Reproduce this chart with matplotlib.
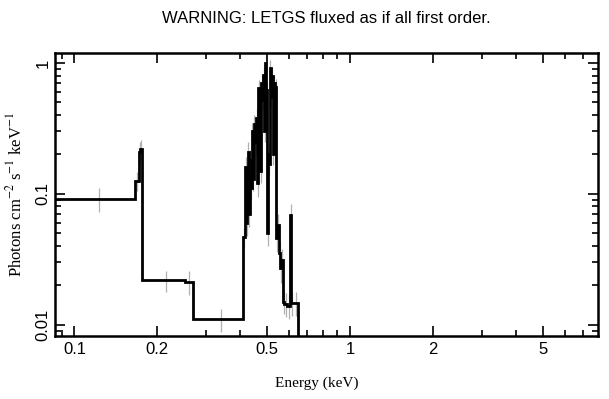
import numpy as np
import matplotlib
matplotlib.use("Agg")
from matplotlib import pyplot as plt
from matplotlib.ticker import FixedLocator, NullFormatter, FixedFormatter

# bin edges (keV) and fluxed values (photons cm^-2 s^-1 keV^-1)
edges = [0.080, 0.166, 0.171, 0.1735, 0.176, 0.252, 0.270, 0.409, 0.417,
         0.420, 0.423, 0.426, 0.429, 0.432, 0.436, 0.440, 0.444, 0.448,
         0.452, 0.456, 0.460, 0.464, 0.468, 0.472, 0.476, 0.480, 0.484,
         0.488, 0.492, 0.496, 0.500, 0.504, 0.508, 0.512, 0.516, 0.520,
         0.524, 0.528, 0.532, 0.536, 0.540, 0.546, 0.552, 0.558, 0.565,
         0.571, 0.578, 0.590, 0.606, 0.612, 0.623, 0.648, 0.700]
flux = [0.092, 0.126, 0.21, 0.22, 0.0219, 0.0213, 0.0110, 0.047,
        0.16, 0.06, 0.15, 0.21, 0.07, 0.18, 0.11, 0.30, 0.13, 0.34,
        0.25, 0.38, 0.12, 0.64, 0.45, 0.15, 0.70, 0.52, 0.81, 0.30,
        1.00, 0.62, 0.05, 0.20, 0.17, 0.92, 0.55, 0.80, 0.20, 0.70,
        0.45, 0.65, 0.046, 0.058, 0.035, 0.027, 0.031, 0.015, 0.0145,
        0.014, 0.069, 0.0147, 0.0147, 1e-5]
flux_err = [0.019, 0.02, 0.04, 0.04, 0.004, 0.0045, 0.0022, 0.008,
            0.03, 0.012, 0.03, 0.04, 0.014, 0.035, 0.02, 0.05, 0.025, 0.06,
            0.05, 0.07, 0.025, 0.1, 0.08, 0.03, 0.11, 0.09, 0.12, 0.05,
            0.13, 0.1, 0.01, 0.035, 0.03, 0.13, 0.09, 0.12, 0.035, 0.11,
            0.08, 0.1, 0.01, 0.012, 0.008, 0.006, 0.007, 0.003, 0.003,
            0.003, 0.014, 0.003, 0.003, 0.0]

title = "WARNING: LETGS fluxed as if all first order."
xticks = [0.1, 0.2, 0.5, 1, 2, 5]
xtick_labels = ["0.1", "0.2", "0.5", "1", "2", "5"]
yticks = [0.01, 0.1, 1]
ytick_labels = ["0.01", "0.1", "1"]

plt.rcParams["font.family"] = ["Liberation Sans", "DejaVu Sans"]
plt.rcParams["mathtext.fontset"] = "stix"

fig = plt.figure(figsize=(6.09, 3.99), dpi=100)
ax = fig.add_axes([0.0903, 0.158, 0.892, 0.709])

edges_a = np.array(edges)
flux_a = np.array(flux)
centers = 0.5 * (edges_a[:-1] + edges_a[1:])
ax.errorbar(centers[:-1], flux_a[:-1], yerr=flux_err[:-1], fmt="none",
            ecolor="#b0b0b0", elinewidth=0.9, capsize=0, zorder=1)
ax.stairs(flux_a, edges_a, baseline=None, color="black", linewidth=2.0, zorder=2)

ax.set_xscale("log")
ax.set_yscale("log")
ax.set_xlim(0.085, 7.95)
ax.set_ylim(0.0082, 1.19)

ax.xaxis.set_major_locator(FixedLocator(xticks))
ax.xaxis.set_major_formatter(FixedFormatter(xtick_labels))
ax.xaxis.set_minor_locator(FixedLocator([0.09, 0.3, 0.4, 0.6, 0.7, 0.8, 0.9,
                                         3, 4, 6, 7]))
ax.xaxis.set_minor_formatter(NullFormatter())
ax.yaxis.set_major_locator(FixedLocator(yticks))
ax.yaxis.set_major_formatter(FixedFormatter(ytick_labels))
ax.yaxis.set_minor_formatter(NullFormatter())

ax.tick_params(which="both", direction="in", top=True, right=True, width=1.2,
               labelsize=12)
ax.tick_params(which="major", length=7)
ax.tick_params(which="minor", length=4)
ax.tick_params(axis="x", pad=4)
ax.tick_params(axis="y", pad=3)
for lab in ax.get_yticklabels():
    lab.set_rotation(90)
    lab.set_va("center")
for sp in ax.spines.values():
    sp.set_linewidth(1.8)

ax.set_title(title, fontsize=12, pad=22)
ax.set_xlabel("Energy (keV)", family="Liberation Serif", fontsize=11)
ax.xaxis.set_label_coords(0.482, -0.145)
ax.set_ylabel("Photons cm$^{-2}$ s$^{-1}$ keV$^{-1}$", family="Liberation Serif",
              fontsize=12)
ax.yaxis.set_label_coords(-0.054, 0.5)

fig.savefig("out.png", dpi=100)
